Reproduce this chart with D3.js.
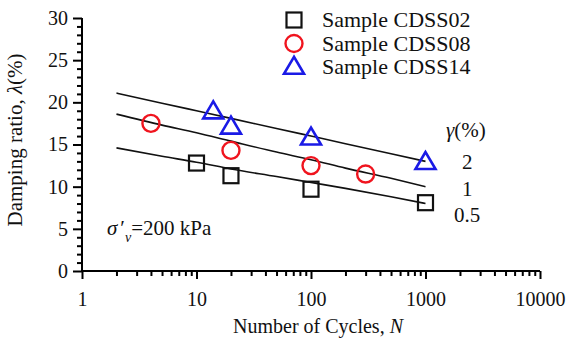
<!DOCTYPE html>
<html>
<head>
<meta charset="utf-8">
<script src="https://cdn.jsdelivr.net/npm/d3@7"></script>
<style>
  html, body { margin: 0; padding: 0; background: #fff; }
</style>
</head>
<body>
<svg id="chart" width="568" height="342"></svg>
<script>
// Damping ratio vs number of cycles, three samples at sigma'v = 200 kPa
const cdss02N = [10, 20, 100, 1000];
const cdss02Damping = [12.8, 11.3, 9.7, 8.1];
const cdss08N = [4, 20, 100, 300];
const cdss08Damping = [17.5, 14.3, 12.5, 11.5];
const cdss14N = [14, 20, 100, 1000];
const cdss14Damping = [18.9, 17.1, 15.8, 12.9];

// Fitted trend curves for each shear strain level
const curveN = [2, 5, 10, 20, 50, 100, 200, 500, 1000];
const curveGamma2 = [21.1, 19.9, 19.0, 18.1, 16.9, 16.0, 15.1, 13.9, 13.0];
const curveGamma1 = [18.6, 17.3, 16.4, 15.4, 14.1, 13.2, 12.2, 11.0, 10.0];
const curveGamma05 = [14.6, 13.6, 12.9, 12.1, 11.2, 10.5, 9.8, 8.8, 8.0];
const curveLabels = ["2", "1", "0.5"];

const xMajorTicks = [1, 10, 100, 1000, 10000];
const yMajorTicks = [0, 5, 10, 15, 20, 25, 30];

const FONT = "'Liberation Serif', 'Times New Roman', Times, 'DejaVu Serif', serif";
const INK = "#111";

const svg = d3.select("#chart");
const x = d3.scaleLog().domain([1, 10000]).range([82, 540]);
const y = d3.scaleLinear().domain([0, 30]).range([271, 18]);

const RED = "#f0141e", BLUE = "#1a1ae6";

// minor ticks
const xMinor = [];
for (let d = 1; d < 10000; d *= 10) for (let k = 2; k <= 9; k++) xMinor.push(d * k);
const yMinor = d3.range(0, 31, 1).filter(v => v % 5 !== 0);

const gx = svg.append("g").attr("transform", `translate(0,${y(0)})`);
gx.call(d3.axisBottom(x).tickValues(xMinor).tickSize(5).tickFormat(""));
gx.call(g => g.select(".domain").remove());
const gxMaj = svg.append("g").attr("transform", `translate(0,${y(0)})`)
  .call(d3.axisBottom(x).tickValues(xMajorTicks).tickSize(8).tickPadding(13)
    .tickFormat(d3.format("d")));
gxMaj.select(".domain").attr("d", `M${x(1)},0H${x(10000)}`);

const gy = svg.append("g").attr("transform", `translate(${x(1)},0)`);
gy.call(d3.axisLeft(y).tickValues(yMinor).tickSize(5).tickFormat(""));
gy.call(g => g.select(".domain").remove());
const gyMaj = svg.append("g").attr("transform", `translate(${x(1)},0)`)
  .call(d3.axisLeft(y).tickValues(yMajorTicks).tickSize(9).tickPadding(5));
gyMaj.select(".domain").attr("d", `M0,${y(30)}V${y(0)}`);

svg.selectAll(".tick line").attr("stroke", "#000").attr("stroke-width", 2);
svg.selectAll(".domain").attr("stroke", "#000").attr("stroke-width", 2);
svg.selectAll(".tick text").attr("fill", INK).style("font-size", "20px");

// axis titles
svg.append("text").attr("x", 318).attr("y", 333).attr("text-anchor", "middle")
  .style("font-size", "20px").attr("fill", INK)
  .html('Number of Cycles, <tspan font-style="italic">N</tspan>');
svg.append("text").attr("transform", "translate(22,140) rotate(-90)")
  .attr("text-anchor", "middle").style("font-size", "21px").attr("fill", INK)
  .html('Damping ratio, <tspan font-style="italic">λ</tspan>(%)');

// trend curves
const line = d3.line().x((d, i) => x(curveN[i])).y(d => y(d)).curve(d3.curveMonotoneX);
[curveGamma2, curveGamma1, curveGamma05].forEach(c => {
  svg.append("path").attr("d", line(c)).attr("fill", "none")
    .attr("stroke", INK).attr("stroke-width", 1.6);
});

// markers
const sqSize = 15, circR = 8.5, triW = 20, triH = 17;
function drawSquare(g, cx, cy) {
  g.append("rect").attr("x", cx - sqSize / 2).attr("y", cy - sqSize / 2)
    .attr("width", sqSize).attr("height", sqSize)
    .attr("fill", "none").attr("stroke", INK).attr("stroke-width", 2.2);
}
function drawCircle(g, cx, cy) {
  g.append("circle").attr("cx", cx).attr("cy", cy).attr("r", circR)
    .attr("fill", "none").attr("stroke", RED).attr("stroke-width", 2.4);
}
function drawTriangle(g, cx, cy) {
  const pts = [[cx, cy - triH * 0.6], [cx - triW / 2, cy + triH * 0.4], [cx + triW / 2, cy + triH * 0.4]];
  g.append("polygon").attr("points", pts.map(p => p.join(",")).join(" "))
    .attr("fill", "none").attr("stroke", BLUE).attr("stroke-width", 2.6)
    .attr("stroke-linejoin", "miter");
}

const marks = svg.append("g");
cdss02N.forEach((n, i) => drawSquare(marks, x(n), y(cdss02Damping[i])));
cdss08N.forEach((n, i) => drawCircle(marks, x(n), y(cdss08Damping[i])));
cdss14N.forEach((n, i) => drawTriangle(marks, x(n), y(cdss14Damping[i])));

// legend
const legendItems = [
  { label: "Sample CDSS02", draw: drawSquare },
  { label: "Sample CDSS08", draw: drawCircle },
  { label: "Sample CDSS14", draw: drawTriangle }
];
legendItems.forEach((it, i) => {
  const cy = 20 + i * 23.5;
  it.draw(svg, 294, cy);
  svg.append("text").attr("x", 322).attr("y", cy + 7)
    .style("font-size", "22px").attr("fill", INK).text(it.label);
});

// strain level labels
svg.append("text").attr("x", 446).attr("y", 137).style("font-size", "21px").attr("fill", INK)
  .html('<tspan font-style="italic">γ</tspan>(%)');
const labelPos = [[462, 169], [462, 196], [454, 222]];
curveLabels.forEach((t, i) => {
  svg.append("text").attr("x", labelPos[i][0]).attr("y", labelPos[i][1])
    .style("font-size", "21px").attr("fill", INK).text(t);
});

// confining stress note
const note = svg.append("text").attr("x", 107).attr("y", 235)
  .style("font-size", "21px").attr("fill", INK);
note.append("tspan").attr("font-style", "italic").text("σ");
note.append("tspan").attr("dx", 3).text("′");
note.append("tspan").attr("dy", 7).attr("font-style", "italic").style("font-size", "14px").text("v");
note.append("tspan").attr("dy", -7).text("=200 kPa");

// serif face everywhere
svg.selectAll("text").attr("font-family", FONT).style("font-family", FONT);
</script>
</body>
</html>
